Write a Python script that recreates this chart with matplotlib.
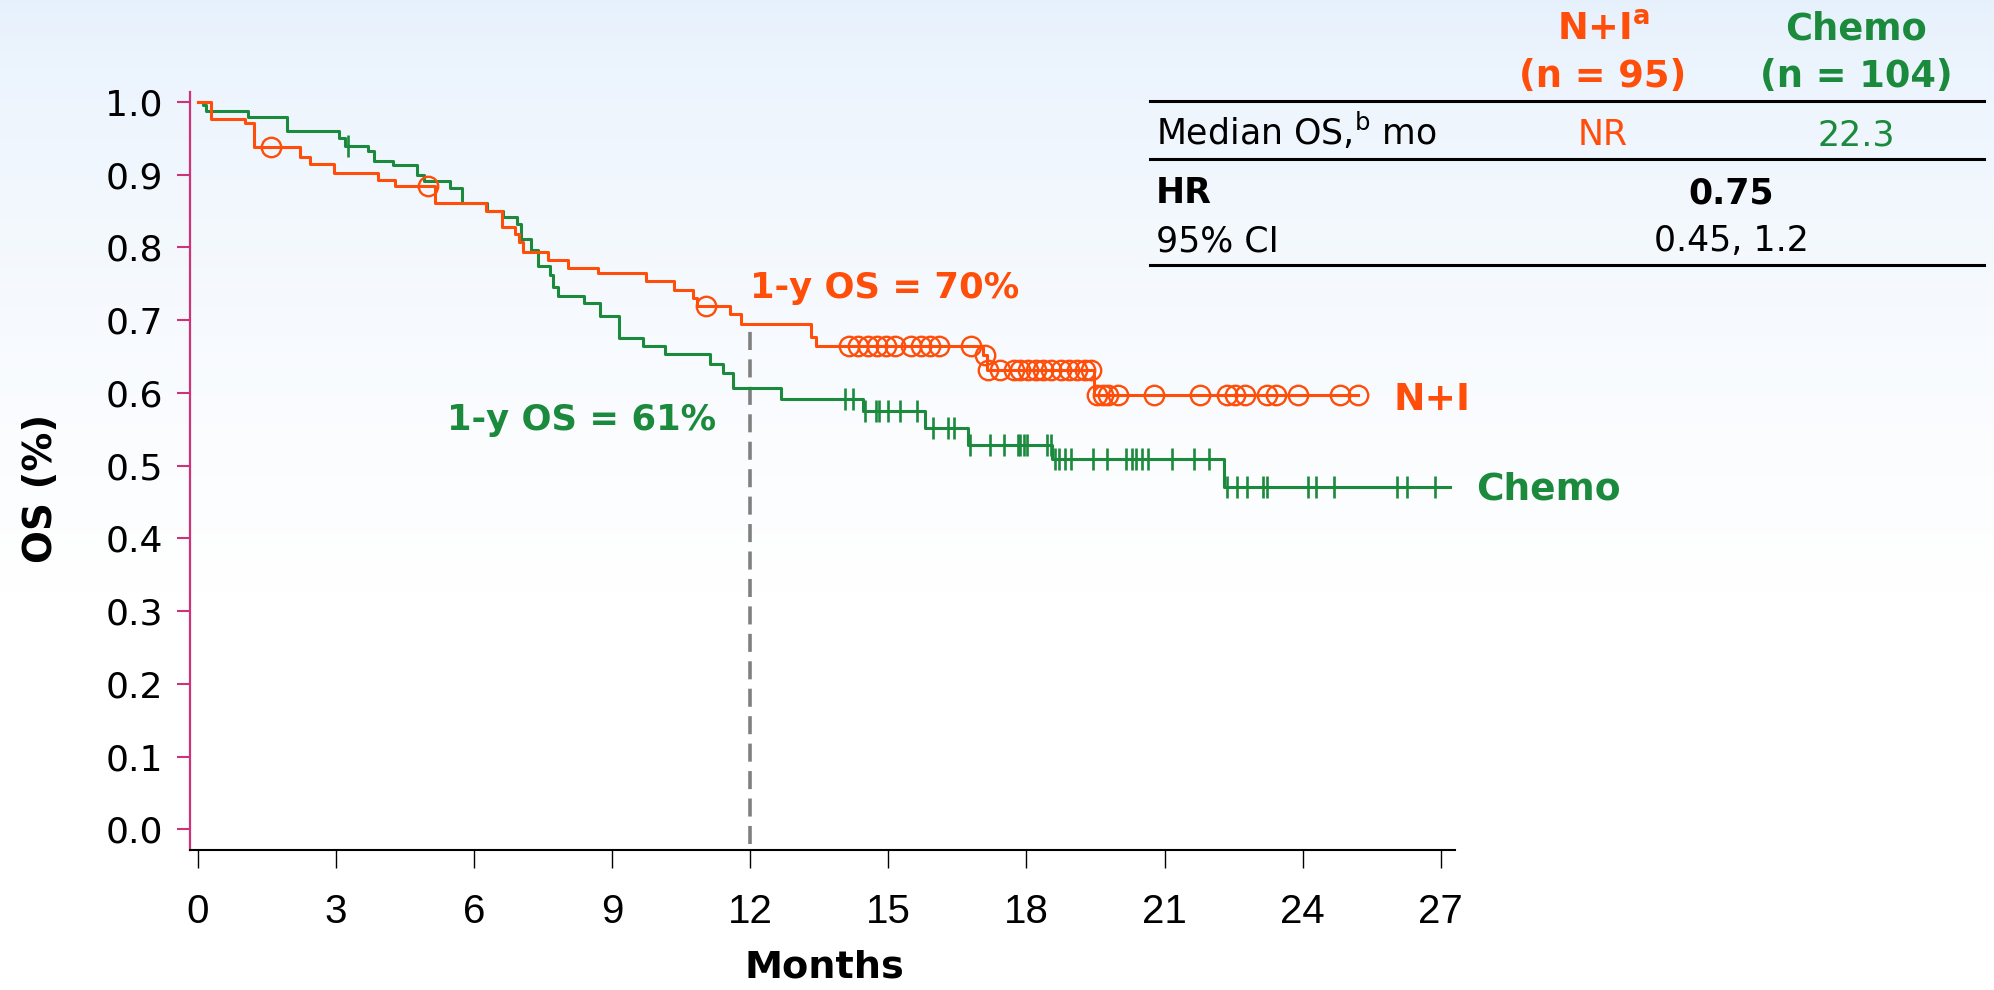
import numpy as np
import matplotlib
matplotlib.use("Agg")
import matplotlib.pyplot as plt
from matplotlib.lines import Line2D

# Kaplan-Meier step data (months, OS probability)
ni_times = [0, 0.29, 1.03, 1.21, 2.21, 2.44, 2.95, 3.91, 4.29, 5.16, 6.25, 6.61,
            6.88, 6.97, 7.07, 7.61, 8.05, 8.69, 9.74, 10.34, 10.76, 10.85, 11.55, 11.81,
            13.33, 13.43, 17.05, 17.14, 19.46, 25.20]
ni_surv = [1.0, 0.977, 0.971, 0.938, 0.9245, 0.914, 0.9016, 0.892, 0.884, 0.861,
           0.850, 0.828, 0.818, 0.807, 0.794, 0.782, 0.771, 0.765, 0.754, 0.741, 0.730,
           0.719, 0.709, 0.695, 0.677, 0.665, 0.652, 0.631, 0.597, 0.597]
ni_censor = [1.59, 5.0, 11.03, 14.15, 14.35, 14.55, 14.75, 14.95, 15.15, 15.5, 15.7,
             15.9, 16.1, 16.8, 17.1, 17.17, 17.42, 17.72, 17.85, 18.03, 18.20, 18.37,
             18.54, 18.76, 18.93, 19.10, 19.27, 19.40, 19.53, 19.66, 19.78, 20.0, 20.77,
             21.76, 22.36, 22.53, 22.75, 23.22, 23.43, 23.91, 24.81, 25.20]

chemo_times = [0, 0.11, 0.18, 1.10, 1.93, 3.06, 3.20, 3.69, 3.82, 4.24, 4.76, 4.92, 5.48,
               5.74, 6.28, 6.63, 6.93, 7.02, 7.24, 7.39, 7.64, 7.71, 7.82, 8.38, 8.73,
               9.15, 9.67, 10.14, 11.12, 11.41, 11.63, 12.67, 14.45, 15.79, 16.73, 18.56,
               22.30, 27.20]
chemo_surv = [1.0, 0.995, 0.988, 0.979, 0.960, 0.950, 0.9396, 0.9327, 0.9185, 0.913, 0.900,
              0.891, 0.881, 0.861, 0.850, 0.842, 0.832, 0.812, 0.796, 0.774, 0.762, 0.745,
              0.733, 0.724, 0.705, 0.676, 0.664, 0.654, 0.6395, 0.6276, 0.606, 0.592,
              0.575, 0.552, 0.528, 0.5095, 0.471, 0.471]
chemo_censor = [3.27, 14.05, 14.24, 14.5, 14.74, 14.8, 15.0, 15.25, 15.62, 15.98, 16.30,
                16.43, 16.78, 17.21, 17.52, 17.81, 17.87, 17.94, 18.02, 18.45, 18.54,
                18.63, 18.71, 18.84, 18.97, 19.44, 19.74, 20.17, 20.30, 20.39, 20.52,
                20.64, 21.16, 21.65, 21.97, 22.36, 22.57, 22.79, 23.13, 23.22, 24.12,
                24.29, 24.68, 26.05, 26.27, 26.87]

landmark = 12
ni_1y, chemo_1y = 70, 61
x_ticks = list(range(0, 28, 3))
y_ticks = [round(v * 0.1, 1) for v in range(11)]

ORANGE = '#FF4D0A'
GREEN = '#1B8A3C'
PINK = '#CC3378'

W, H = 1994, 990


def step_at(times, surv, t):
    idx = np.searchsorted(times, t, side='right') - 1
    return np.asarray(surv)[idx]


def fx(px):
    return px / W


def fy(py):
    return 1 - py / H


fig = plt.figure(figsize=(W / 100, H / 100), dpi=100)

# soft blue background fading to white
bg = fig.add_axes([0, 0, 1, 1], zorder=-10)
grad = np.linspace(0, 1, 256)
fade = np.clip(grad / 0.6, 0, 1) ** 0.7
top = np.array([0.905, 0.945, 0.99])
img = top[None, :] * (1 - fade[:, None]) + np.ones(3)[None, :] * fade[:, None]
bg.imshow(img[:, None, :], aspect='auto', extent=[0, 1, 0, 1], origin='upper')
bg.axis('off')

ax = fig.add_axes([fx(190), fy(850), (1455 - 190) / W, (850 - 92) / H])
ax.patch.set_alpha(0)

ax.plot(ni_times, ni_surv, drawstyle='steps-post', color=ORANGE, lw=2.2, zorder=3)
ax.plot(chemo_times, chemo_surv, drawstyle='steps-post', color=GREEN, lw=2.2, zorder=2)

ax.plot(ni_censor, step_at(ni_times, ni_surv, ni_censor), 'o', mfc='none', mec=ORANGE,
        ms=14, mew=1.7, zorder=4)
ax.plot(chemo_censor, step_at(chemo_times, chemo_surv, chemo_censor), '|', color=GREEN,
        ms=15.5, mew=1.9, zorder=4)

ax.plot([landmark, landmark], [-0.02, step_at(ni_times, ni_surv, landmark)],
        color='#808080', lw=2.6, dashes=(5, 2.6), zorder=1)

ax.set_xlim(-0.17, 27.31)
ax.set_ylim(-0.0285, 1.0135)
ax.set_xticks(x_ticks)
ax.set_yticks(y_ticks)
ax.set_yticklabels([f"{v:.1f}" for v in y_ticks], fontsize=26, family='DejaVu Sans')
ax.set_xticklabels([str(v) for v in x_ticks], fontsize=29, family='Liberation Sans')

for s in ['top', 'right']:
    ax.spines[s].set_visible(False)
ax.spines['left'].set_color(PINK)
ax.spines['left'].set_linewidth(1.6)
ax.spines['bottom'].set_color('black')
ax.spines['bottom'].set_linewidth(1.5)
ax.tick_params(axis='y', colors=PINK, labelcolor='black', length=9.5, width=1.5, pad=10)
ax.tick_params(axis='x', colors='black', length=13, width=1, pad=18)

# annotations on the curves
ax.text(12.0, 0.730, f"1-y OS = {ni_1y}%", color=ORANGE, fontsize=25.5,
        fontweight='bold', ha='left', va='baseline')
ax.text(11.27, 0.549, f"1-y OS = {chemo_1y}%", color=GREEN, fontsize=25.5,
        fontweight='bold', ha='right', va='baseline')
ax.text(25.98, 0.576, "N+I", color=ORANGE, fontsize=27, fontweight='bold',
        ha='left', va='baseline')
ax.text(27.77, 0.453, "Chemo", color=GREEN, fontsize=27, fontweight='bold',
        ha='left', va='baseline')

fig.text(fx(41), fy(488), "OS (%)", rotation=90, fontsize=28, fontweight='bold',
         ha='center', va='center')
fig.text(fx(824), fy(968), "Months", fontsize=27.5, fontweight='bold',
         ha='center', va='center')

# summary table at top right
c1, c2, cm = 1603, 1856, 1731
fig.text(fx(c1), fy(40), "N+I$^{\\mathregular{a}}$", color=ORANGE, fontsize=26.5,
         fontweight='bold', ha='center', va='baseline')
fig.text(fx(c1), fy(87), "(n = 95)", color=ORANGE, fontsize=26.5, fontweight='bold',
         ha='center', va='baseline')
fig.text(fx(c2), fy(40), "Chemo", color=GREEN, fontsize=26.5, fontweight='bold',
         ha='center', va='baseline')
fig.text(fx(c2), fy(87), "(n = 104)", color=GREEN, fontsize=26.5, fontweight='bold',
         ha='center', va='baseline')

fig.text(fx(1156), fy(145), "Median OS,$^{\\mathregular{b}}$ mo", fontsize=25,
         ha='left', va='baseline')
fig.text(fx(c1), fy(145), "NR", color=ORANGE, fontsize=25, ha='center', va='baseline')
fig.text(fx(c2), fy(145), "22.3", color=GREEN, fontsize=25, ha='center', va='baseline')
fig.text(fx(1156), fy(203), "HR", fontsize=25, fontweight='bold', ha='left', va='baseline')
fig.text(fx(cm), fy(203), "0.75", fontsize=25, fontweight='bold', ha='center',
         va='baseline')
fig.text(fx(1156), fy(251), "95% CI", fontsize=25, ha='left', va='baseline')
fig.text(fx(cm), fy(251), "0.45, 1.2", fontsize=25, ha='center', va='baseline')

for yy in [100.5, 159, 264.5]:
    fig.add_artist(Line2D([fx(1150), fx(1984)], [fy(yy), fy(yy)], color='black', lw=2.2))

fig.savefig("out.png", dpi=100)
